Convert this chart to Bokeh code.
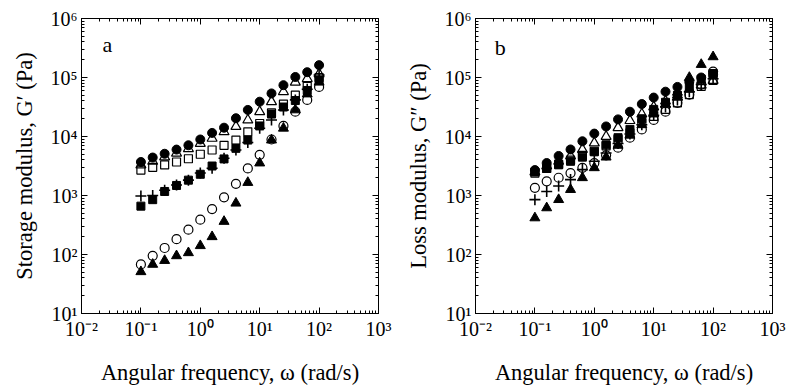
from bokeh.plotting import figure
from bokeh.layouts import row
from bokeh.models import Range1d, FixedTicker, LogAxis, Label, CustomJSTickFormatter
from bokeh.embed import file_html
from bokeh.resources import INLINE

# angular frequency (rad/s)
omega = [0.1, 0.158, 0.251, 0.398, 0.631, 1.0, 1.58, 2.51, 3.98, 6.31,
         10.0, 15.8, 25.1, 39.8, 63.1, 100.0]

# panel a: storage modulus G' (Pa)
a_filled_circle = [3700, 4400, 5100, 6000, 7100, 8900, 11500, 14100, 20400, 28200,
                   38900, 53700, 74100, 102000, 123000, 162000]
a_open_triangle = [3300, 3800, 4500, 5200, 6200, 7600, 9300, 12000, 14800, 19000,
                   26300, 38900, 57500, 83200, 95500, 115000]
a_open_square = [2700, 3000, 3300, 3700, 4200, 5000, 5900, 7100, 8700, 12000,
                 16600, 25100, 35500, 50100, 70800, 100000]
a_plus = [980, 1000, 1230, 1510, 1820, 2400, 2900, 4270, 5900, 7900,
          13800, 19000, 28200, 41700, 63100, 110000]
a_filled_square = [660, 850, 1170, 1480, 1820, 2290, 3160, 4170, 6300, 8700,
                   15100, 24000, 31600, 40700, 60300, 89100]
a_open_circle = [68, 95, 129, 182, 263, 389, 589, 933, 1580, 2880,
                 4900, 8900, 15100, 26300, 41700, 69200]
a_filled_triangle = [51, 68, 79, 95, 107, 141, 200, 363, 741, 1660,
                     3550, 8700, 13800, 28200, 52500, 83200]

# panel b: loss modulus G'' (Pa)
b_filled_circle = [2700, 3550, 4680, 6030, 8300, 11200, 14800, 19500, 26300, 35500,
                   45700, 57500, 69200, 85100, 100000, 112000]
b_open_triangle = [2500, 3160, 3800, 4680, 6030, 7760, 10000, 14100, 18600, 24000,
                   31600, 39800, 50100, 63100, 74100, 89100]
b_open_square = [2400, 2880, 3390, 3980, 4790, 5620, 6920, 8910, 11500, 17000,
                 21900, 28800, 37200, 51300, 70800, 89100]
b_filled_square = [2500, 2880, 3310, 3800, 4470, 5500, 7240, 9550, 13200, 20000,
                   28800, 38000, 50100, 70800, 93300, 117000]
b_open_circle = [1350, 1740, 2000, 2400, 2950, 3550, 4790, 6460, 9550, 13200,
                 19100, 26300, 37200, 51300, 75900, 126000]
b_plus = [850, 1170, 1450, 1860, 2750, 3800, 5250, 7590, 11000, 15800,
          22900, 31600, 41700, 57500, 75900, 95500]
b_filled_triangle = [417, 617, 851, 1260, 2000, 2950, 4470, 7080, 10500, 15800,
                     24000, 35500, 56200, 100000, 166000, 224000]

x_ticks = [0.01, 0.1, 1.0, 10.0, 100.0, 1000.0]
x_tick_labels = ["10\u207b\u00b2", "10\u207b\u00b9", "10\u2070", "10\u00b9", "10\u00b2", "10\u00b3"]
y_ticks = [10.0, 100.0, 1000.0, 10000.0, 100000.0, 1000000.0]
y_tick_labels = ["10\u00b9", "10\u00b2", "10\u00b3", "10\u2074", "10\u2075", "10\u2076"]

FONT = "Liberation Serif"

LABEL_JS = """
let best = 0;
let bd = Infinity;
for (let i = 0; i < tvals.length; i++) {
  const d = Math.abs(Math.log10(tvals[i]) - Math.log10(tick));
  if (d < bd) { bd = d; best = i; }
}
return tlabels[best];
"""


def minor(ticks):
    out = []
    for t in ticks[:-1]:
        for m in range(2, 10):
            out.append(t * m)
    return out


def make_panel(width, border_right, ylabel, letter, letter_x, letter_y, series):
    p = figure(width=width, height=387, x_axis_type="log", y_axis_type="log",
               x_range=Range1d(0.01, 1000), y_range=Range1d(10, 1e6),
               output_backend="svg", toolbar_location=None,
               min_border_left=81, min_border_right=border_right,
               min_border_top=18, min_border_bottom=73)
    p.background_fill_color = "white"
    p.border_fill_color = "white"
    p.outline_line_color = "black"
    p.outline_line_width = 1
    p.xgrid.visible = False
    p.ygrid.visible = False

    xt = FixedTicker(ticks=x_ticks, minor_ticks=minor(x_ticks))
    yt = FixedTicker(ticks=y_ticks, minor_ticks=minor(y_ticks))

    for ax, tk, tv, labels in ((p.xaxis[0], xt, x_ticks, x_tick_labels),
                               (p.yaxis[0], yt, y_ticks, y_tick_labels)):
        ax.ticker = tk
        ax.formatter = CustomJSTickFormatter(args=dict(tvals=tv, tlabels=labels), code=LABEL_JS)
        ax.major_label_text_font = FONT
        ax.major_label_text_font_size = "20px"
        ax.major_label_text_color = "black"
        ax.axis_label_text_font = FONT
        ax.axis_label_text_font_size = "22.5px"
        ax.axis_label_text_font_style = "normal"
        ax.axis_label_text_color = "black"
        ax.axis_line_color = "black"
        ax.major_tick_in = 6
        ax.major_tick_out = 0
        ax.minor_tick_in = 3
        ax.minor_tick_out = 0
        ax.major_tick_line_color = "black"
        ax.minor_tick_line_color = "black"

    p.xaxis[0].axis_label = "Angular frequency, \u03c9 (rad/s)"
    p.xaxis[0].major_label_standoff = 4
    p.xaxis[0].axis_label_standoff = 17
    p.yaxis[0].axis_label = ylabel
    p.yaxis[0].major_label_standoff = 4
    p.yaxis[0].axis_label_standoff = 11

    top = LogAxis(ticker=FixedTicker(ticks=x_ticks, minor_ticks=minor(x_ticks)))
    right = LogAxis(ticker=FixedTicker(ticks=y_ticks, minor_ticks=minor(y_ticks)))
    for ax in (top, right):
        ax.formatter = CustomJSTickFormatter(code="return ' ';")
        ax.major_label_text_font_size = "4px"
        ax.major_label_text_alpha = 0
        ax.major_label_standoff = 0
        ax.major_tick_in = 6
        ax.major_tick_out = 0
        ax.minor_tick_in = 3
        ax.minor_tick_out = 0
        ax.axis_line_color = "black"
        ax.major_tick_line_color = "black"
        ax.minor_tick_line_color = "black"
    p.add_layout(top, "above")
    p.add_layout(right, "right")

    fc, ot, os_, pl, fs, oc, ft = series
    p.scatter(omega, fs, marker="square", size=8, fill_color="black", line_color="black")
    p.scatter(omega, ft, marker="triangle", size=10, fill_color="black", line_color="black")
    p.scatter(omega, fc, marker="circle", size=9, fill_color="black", line_color="black")
    p.scatter(omega, os_, marker="square", size=8, fill_color=None, line_color="black", line_width=1.2)
    p.scatter(omega, ot, marker="triangle", size=10, fill_color=None, line_color="black", line_width=1.2)
    p.scatter(omega, oc, marker="circle", size=9, fill_color=None, line_color="black", line_width=1.2)
    p.scatter(omega, pl, marker="cross", size=11, line_color="black", line_width=1.6)

    p.add_layout(Label(x=letter_x, y=letter_y, text=letter, text_font=FONT,
                       text_font_size="22px", text_color="black",
                       text_baseline="alphabetic"))
    return p


pa = make_panel(394, 16, "Storage modulus, G\u2032 (Pa)", "a", 0.0226, 363000,
                (a_filled_circle, a_open_triangle, a_open_square, a_plus,
                 a_filled_square, a_open_circle, a_filled_triangle))
pb = make_panel(394, 16, "Loss modulus, G\u2033 (Pa)", "b", 0.021, 324000,
                (b_filled_circle, b_open_triangle, b_open_square, b_plus,
                 b_filled_square, b_open_circle, b_filled_triangle))

layout = row(pa, pb)
open("out.html", "w").write(file_html(layout, INLINE))
